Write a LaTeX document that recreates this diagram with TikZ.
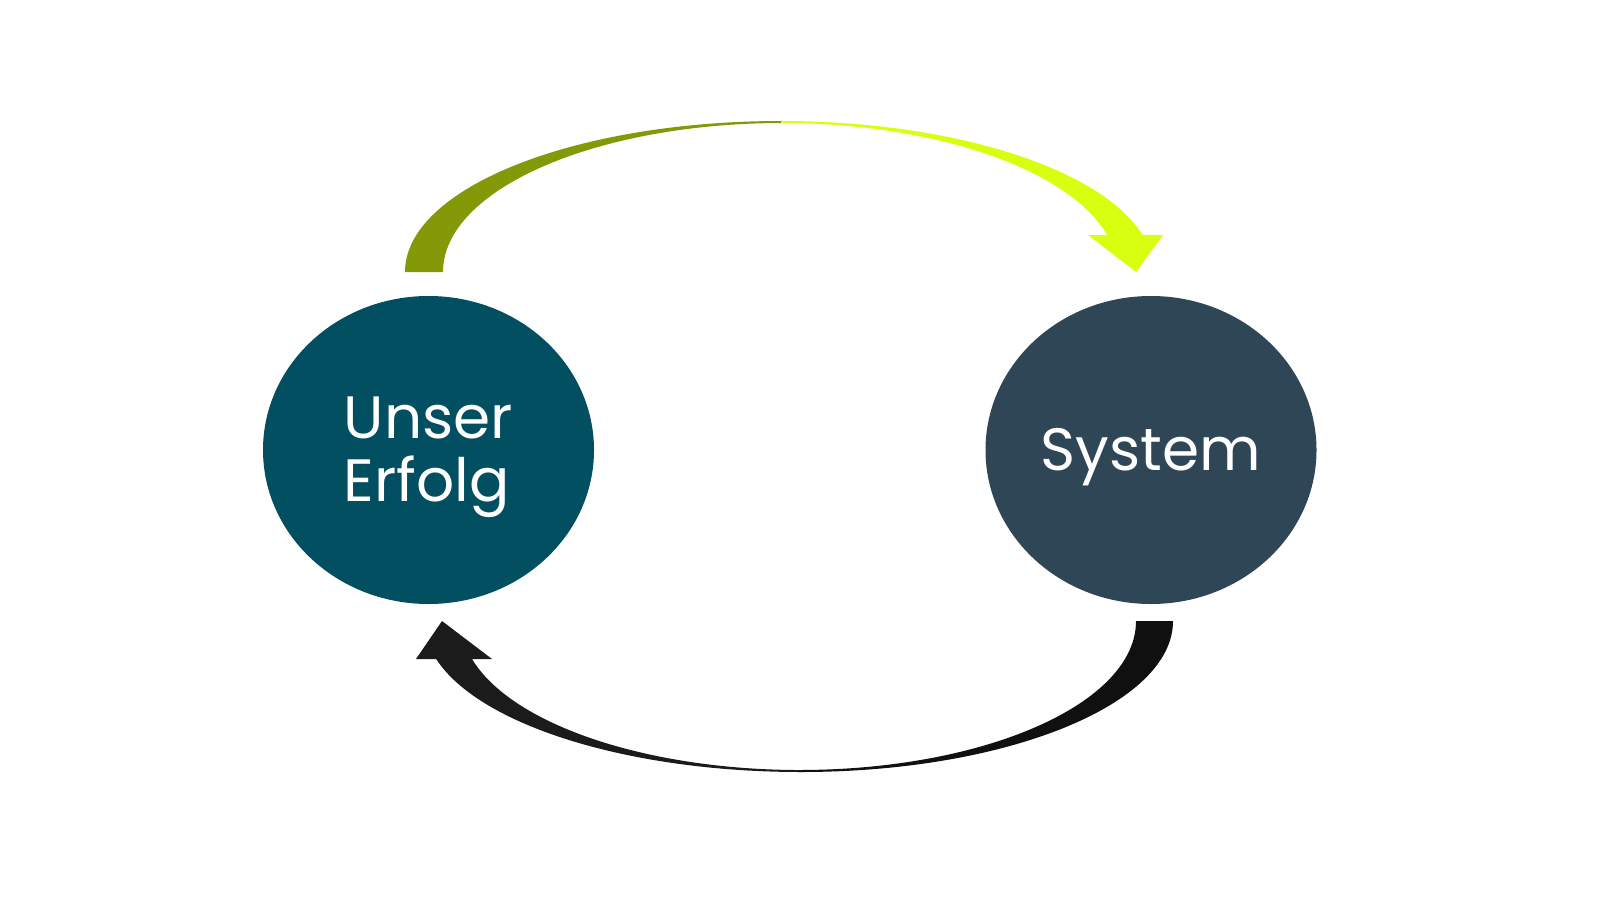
\documentclass[tikz,border=0pt]{standalone}
\usepackage{fontspec}
\setmainfont{Poppins}
\usetikzlibrary{shapes.geometric}
\definecolor{erfolgblau}{RGB}{3,79,98}
\definecolor{systemgrau}{RGB}{46,70,85}
\definecolor{oliv}{RGB}{131,153,8}
\definecolor{limette}{RGB}{217,255,16}
\definecolor{dunkelA}{RGB}{27,27,27}
\definecolor{dunkelB}{RGB}{16,16,16}

\begin{document}
\begin{tikzpicture}[font=\fontsize{17}{18}\selectfont,
  kreis/.style={ellipse,minimum width=3.31cm,minimum height=3.08cm,inner sep=0pt},
  schrift/.style={text=white,align=left,inner sep=0pt}]
  \useasboundingbox (0,0) rectangle (16,9);
  \fill[white] (0,0) rectangle (16,9);

  % Kreise
  \node[kreis,fill=erfolgblau] (erfolg) at (4.285,4.50) {};
  \node[kreis,fill=systemgrau] (system) at (11.51,4.50) {};
  \node[schrift] (erfolgtext) at ([yshift=-0.07cm]erfolg.center) {Unser\\Erfolg};
  \node[schrift] (systemtext) at ([yshift=-0.07cm]system.center) {System};

  % Pfeil oben: Erfolg -> System
  \coordinate (oA) at (4.05,6.28);
  \coordinate (oB) at (4.43,6.28);
  \coordinate (oS) at (11.36,6.28);
  \fill[oliv] (oA) arc[start angle=180,end angle=90,x radius=3.76,y radius=1.51]
    -- ++(0.02,0) -- (7.83,7.77)
    arc[start angle=90,end angle=180,x radius=3.40,y radius=1.49] -- (oB) -- cycle;
  \fill[limette] (7.81,7.79) arc[start angle=90,end angle=14.2,x radius=3.73,y radius=1.51]
    -- (11.63,6.65) -- (oS) -- (10.88,6.65) -- (11.07,6.65)
    arc[start angle=14.37,end angle=90,x radius=3.365,y radius=1.49] -- cycle;

  % Pfeil unten: System -> Erfolg
  \coordinate (uA) at (11.73,2.79);
  \coordinate (uB) at (11.36,2.79);
  \coordinate (uS) at (4.42,2.79);
  \fill[dunkelB] (uA) arc[start angle=0,end angle=-90,x radius=3.72,y radius=1.51]
    -- ++(-0.02,0) -- (7.99,1.30)
    arc[start angle=-90,end angle=0,x radius=3.37,y radius=1.49] -- (uB) -- cycle;
  \fill[dunkelA] (8.01,1.28) arc[start angle=-90,end angle=-165.42,x radius=3.77,y radius=1.51]
    -- (4.16,2.41) -- (uS) -- (4.92,2.41) -- (4.72,2.41)
    arc[start angle=-165.23,end angle=-90,x radius=3.40,y radius=1.49] -- cycle;
\end{tikzpicture}
\end{document}
